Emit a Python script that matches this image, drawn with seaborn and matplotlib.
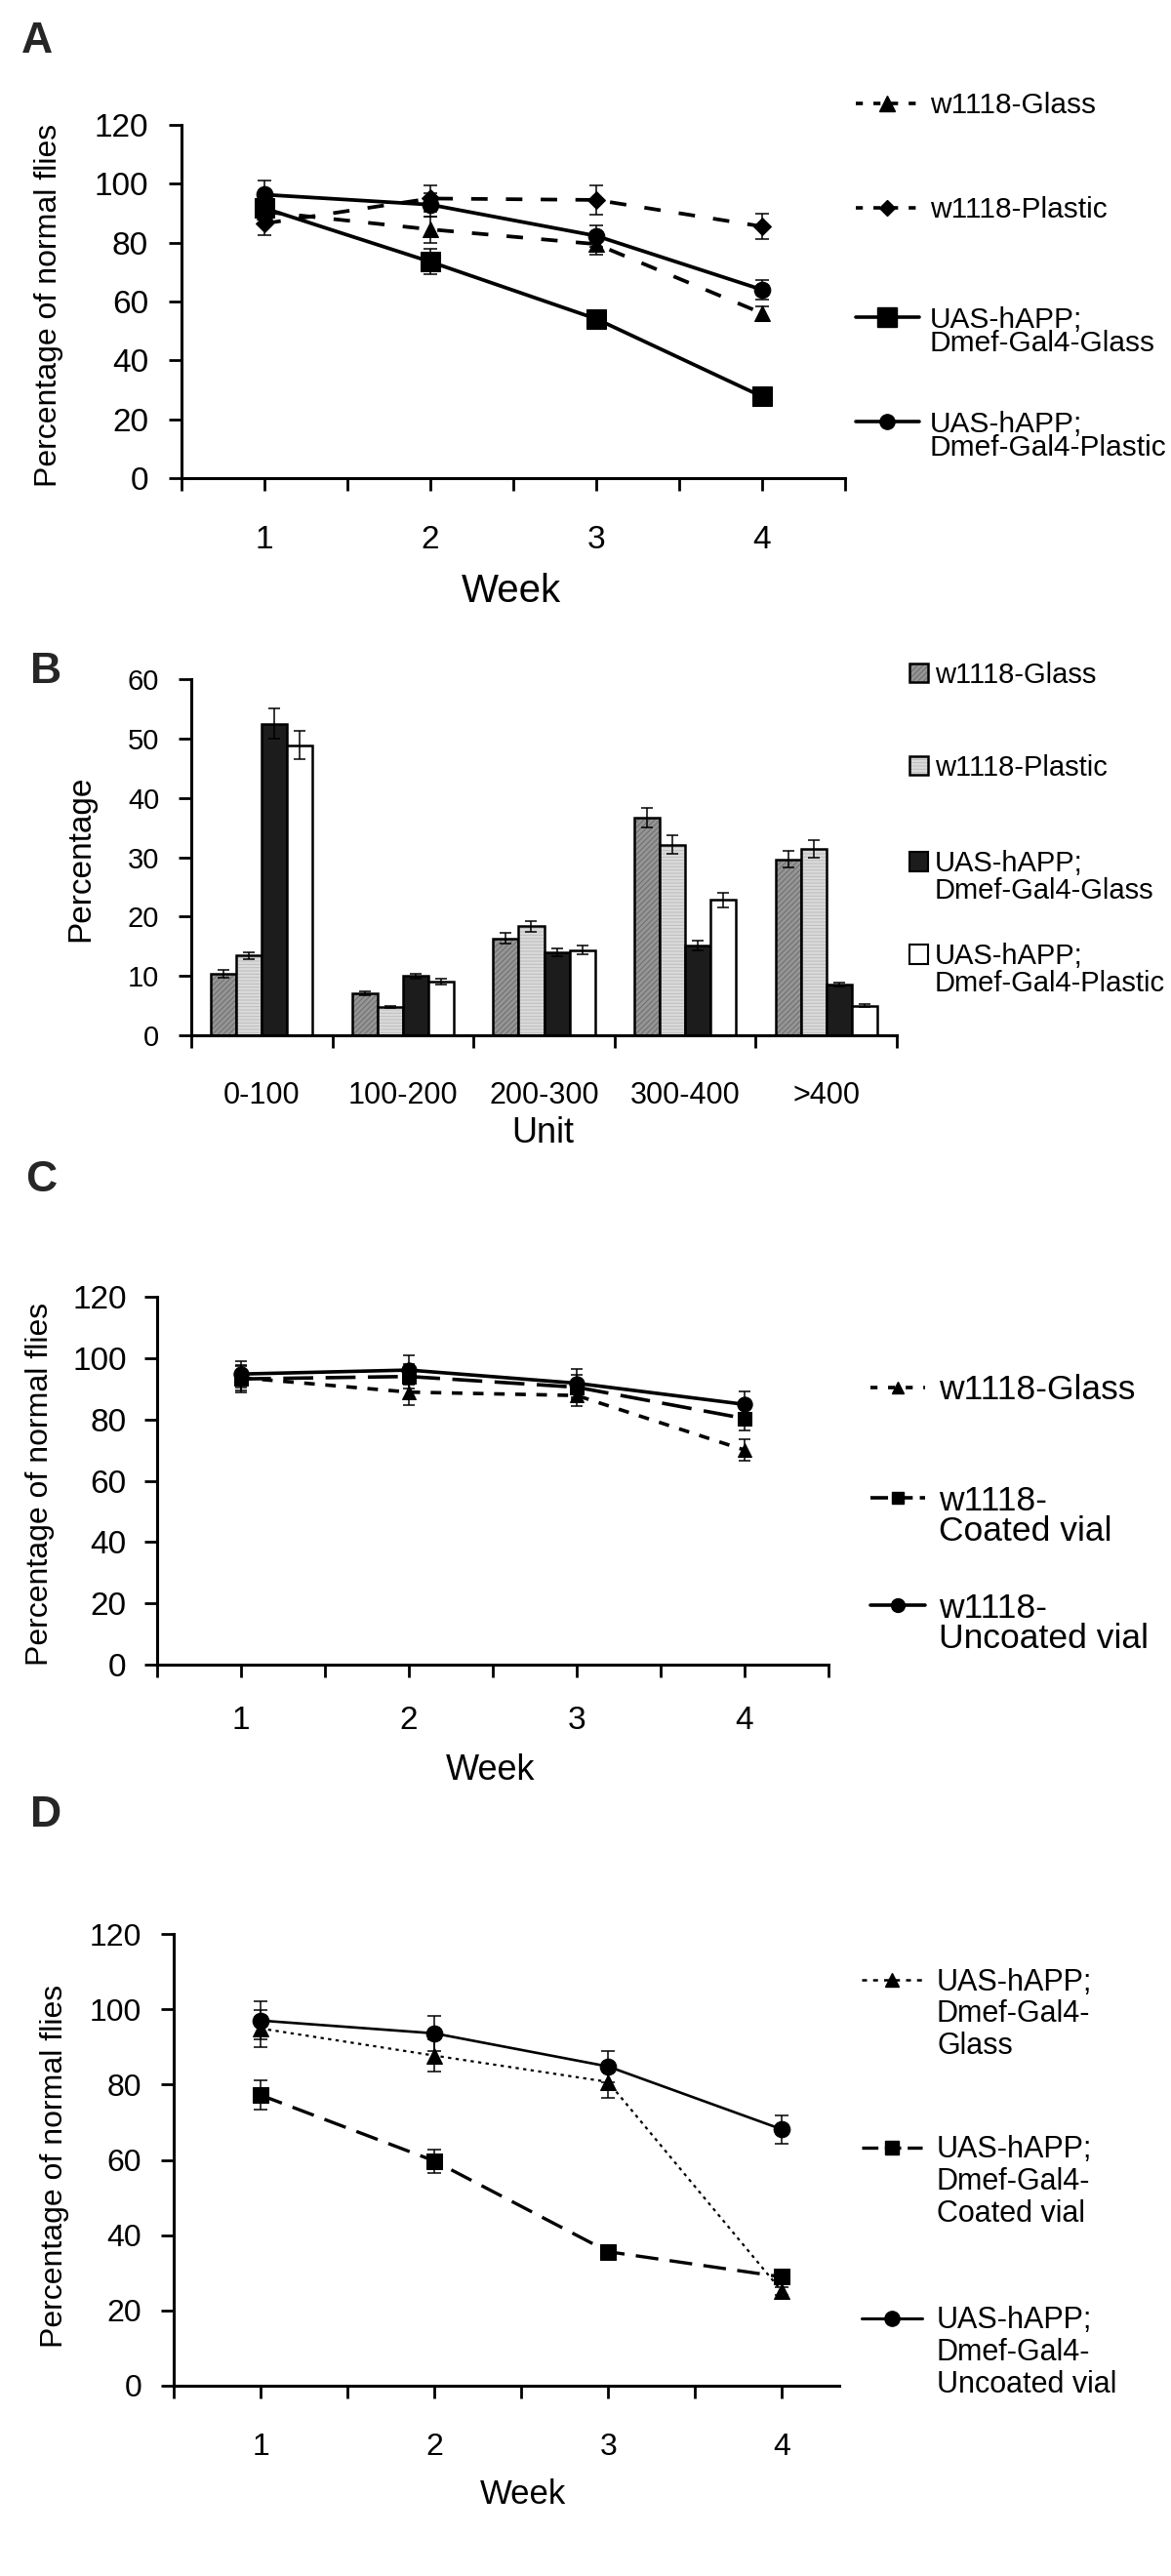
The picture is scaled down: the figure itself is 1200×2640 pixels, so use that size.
import numpy as np
import pandas as pd
import matplotlib
matplotlib.use("Agg")
import matplotlib.pyplot as plt
import matplotlib.patheffects as pe
from matplotlib.lines import Line2D
from matplotlib.patches import Patch
import seaborn as sns

W, H = 1200, 2640

weeks = [1, 2, 3, 4]

# A: survival on glass / plastic
a_labels = [["w1118-Glass"], ["w1118-Plastic"],
            ["UAS-hAPP;", "Dmef-Gal4-Glass"], ["UAS-hAPP;", "Dmef-Gal4-Plastic"]]
a_glass = [90.5, 84.5, 79.5, 56.0]
a_glass_err = [3.5, 4.5, 3.6, 2.5]
a_plastic = [86.5, 95.0, 94.5, 85.5]
a_plastic_err = [3.8, 4.4, 4.9, 4.4]
a_uas_glass = [91.7, 73.5, 54.1, 27.7]
a_uas_glass_err = [3.0, 4.3, 1.5, 1.5]
a_uas_plastic = [96.3, 92.9, 82.3, 64.0]
a_uas_plastic_err = [4.7, 4.0, 3.6, 3.2]

# B: distribution over units
b_units = ["0-100", "100-200", "200-300", "300-400", ">400"]
b_groups = ["w1118-Glass", "w1118-Plastic", "UAS-hAPP; Dmef-Gal4-Glass", "UAS-hAPP; Dmef-Gal4-Plastic"]
b_labels = [["w1118-Glass"], ["w1118-Plastic"],
            ["UAS-hAPP;", "Dmef-Gal4-Glass"], ["UAS-hAPP;", "Dmef-Gal4-Plastic"]]
b_w_glass = [10.35, 7.1, 16.3, 36.65, 29.6]
b_w_glass_err = [0.6, 0.3, 0.9, 1.7, 1.4]
b_w_plastic = [13.4, 4.8, 18.35, 32.1, 31.4]
b_w_plastic_err = [0.6, 0.15, 0.9, 1.6, 1.5]
b_uas_glass = [52.5, 10.0, 14.0, 15.1, 8.55]
b_uas_glass_err = [2.6, 0.4, 0.7, 0.8, 0.3]
b_uas_plastic = [48.9, 9.1, 14.35, 22.8, 5.0]
b_uas_plastic_err = [2.45, 0.5, 0.7, 1.2, 0.3]

# C: w1118 in coated / uncoated vials
c_labels = [["w1118-Glass"], ["w1118-", "Coated vial"], ["w1118-", "Uncoated vial"]]
c_glass = [93.6, 88.9, 87.8, 70.0]
c_glass_err = [4.0, 4.2, 3.4, 3.6]
c_coated = [93.2, 94.0, 90.5, 80.3]
c_coated_err = [4.3, 4.0, 4.0, 3.9]
c_uncoated = [94.8, 96.1, 91.8, 84.9]
c_uncoated_err = [4.3, 4.7, 4.7, 4.3]

# D: UAS-hAPP; Dmef-Gal4 in coated / uncoated vials
d_labels = [["UAS-hAPP;", "Dmef-Gal4-", "Glass"],
            ["UAS-hAPP;", "Dmef-Gal4-", "Coated vial"],
            ["UAS-hAPP;", "Dmef-Gal4-", "Uncoated vial"]]
d_glass = [94.9, 87.7, 80.7, 25.1]
d_glass_err = [5.0, 4.3, 4.2, 1.0]
d_coated = [77.2, 59.7, 35.6, 28.9]
d_coated_err = [3.9, 3.1, 1.0, 1.0]
d_uncoated = [97.0, 93.6, 84.8, 68.1]
d_uncoated_err = [5.0, 4.6, 4.2, 3.8]

sns.set_style("ticks")
plt.rcParams["font.family"] = ["Liberation Sans", "DejaVu Sans"]
plt.rcParams["hatch.linewidth"] = 0.7

fig = plt.figure(figsize=(W / 100, H / 100), dpi=100)


def px_axes(x0, y0, x1, y1):
    return fig.add_axes([x0 / W, 1 - y1 / H, (x1 - x0) / W, (y1 - y0) / H])


def style_axes(ax, tick_pt, xpad, ypad):
    sns.despine(ax=ax)
    for s in ("left", "bottom"):
        ax.spines[s].set_linewidth(2.2)
        ax.spines[s].set_color("k")
    ax.tick_params(axis="both", which="both", direction="out", length=9.5, width=2,
                   color="k", labelsize=tick_pt, labelcolor="k")
    ax.tick_params(axis="x", which="both", pad=xpad)
    ax.tick_params(axis="y", which="both", pad=ypad)


def set_labels(ax, xlab, ylab, fs_x, fs_y, xpos, ypos):
    ax.set_xlabel(xlab, fontsize=fs_x, color="k")
    ax.set_ylabel(ylab, fontsize=fs_y, color="k")
    ax.xaxis.set_label_coords(*xpos)
    ax.yaxis.set_label_coords(*ypos)
    ax.xaxis.label.set_va("center")
    ax.yaxis.label.set_va("center")


def draw_series(ax, y, err, marker, ms, ls, lw, cap=5):
    ax.errorbar(weeks, y, yerr=err, fmt="none", ecolor="k", elinewidth=1.1,
                capsize=cap, capthick=1.1, zorder=2)
    sns.lineplot(x=weeks, y=y, ax=ax, color="k", marker=marker, markersize=ms,
                 markeredgecolor="k", linewidth=lw, linestyle=ls, zorder=3)


def week_axis(ax, xmax, last_tick):
    ax.set_xlim(0.5, xmax)
    ax.set_ylim(0, 120)
    ticks = np.arange(0.5, last_tick + 0.01, 0.5)
    ax.set_xticks(ticks)
    ax.set_xticklabels([str(int(t)) if t == int(t) else "" for t in ticks])
    ax.set_yticks(range(0, 121, 20))


def add_entry(handle, lines, x, ys, fs, hl, htp, ls, hh=0.7):
    yc = sum(ys) / len(ys)
    handles = [handle] + [Line2D([], [], color="none")] * (len(lines) - 1)
    fig.legend(handles, lines, loc="center left", bbox_to_anchor=(x / W, 1 - yc / H),
               frameon=False, fontsize=fs, handlelength=hl, handletextpad=htp,
               labelspacing=ls, borderpad=0, borderaxespad=0, handleheight=hh,
               numpoints=1, labelcolor="k")


def letter(s, x, y):
    fig.text(x / W, 1 - y / H, s, ha="center", va="center", fontsize=32, fontweight="bold")


def outline_hatched(patch, hatch, hcol):
    # hatch takes the edge colour; a black stroke is drawn as the outline
    patch.set_hatch(hatch)
    patch.set_edgecolor(hcol)
    patch.set_path_effects([pe.Stroke(linewidth=1.8, foreground="k")])


# ---------------- A ----------------
axa = px_axes(186, 128, 866, 490)
dash_a = (0, (4.5, 5))
draw_series(axa, a_glass, a_glass_err, "^", 12, dash_a, 2.7)
draw_series(axa, a_plastic, a_plastic_err, "D", 9, dash_a, 2.7)
draw_series(axa, a_uas_glass, a_uas_glass_err, "s", 14, "-", 2.7)
draw_series(axa, a_uas_plastic, a_uas_plastic_err, "o", 12, "-", 2.7)
week_axis(axa, 4.5, 4.5)
style_axes(axa, 24, 25, 15)
set_labels(axa, "Week", "Percentage of normal flies", 29, 23, (0.497, -0.32), (-0.2, 0.49))
letter("A", 38, 42)

a_handles = [
    Line2D([], [], color="k", lw=2.6, ls=(0, (2, 3)), marker="^", ms=11),
    Line2D([], [], color="k", lw=2.6, ls=(0, (2, 3)), marker="D", ms=8),
    Line2D([], [], color="k", lw=2.6, ls="-", marker="s", ms=14),
    Line2D([], [], color="k", lw=2.6, ls="-", marker="o", ms=11),
]
a_ys = [[108], [215], [325, 355], [432, 462]]
for h, lab, ys in zip(a_handles, a_labels, a_ys):
    add_entry(h, lab, 877, ys, 21.5, 2.17, 0.37, -0.11)

# ---------------- B ----------------
axb = px_axes(196, 696, 919, 1061)
b_values = [b_w_glass, b_w_plastic, b_uas_glass, b_uas_plastic]
b_errors = [b_w_glass_err, b_w_plastic_err, b_uas_glass_err, b_uas_plastic_err]
b_colors = ["#959595", "#dadada", "#1c1c1c", "#ffffff"]
b_hatch = ["//////", "-----", None, None]
b_hatch_col = ["#6c6c6c", "#bcbcbc", "k", "k"]
df_b = pd.DataFrame({
    "Unit": np.tile(b_units, len(b_groups)),
    "Group": np.repeat(b_groups, len(b_units)),
    "Percentage": np.concatenate(b_values),
})
sns.barplot(data=df_b, x="Unit", y="Percentage", hue="Group", order=b_units,
            hue_order=b_groups, palette=b_colors, saturation=1, width=0.72,
            edgecolor="k", linewidth=1.8, errorbar=None, legend=False, ax=axb)
for cont, errs, hatch, hcol in zip(axb.containers, b_errors, b_hatch, b_hatch_col):
    xs, ys = [], []
    for bar in cont:
        if hatch:
            outline_hatched(bar, hatch, hcol)
        xs.append(bar.get_x() + bar.get_width() / 2)
        ys.append(bar.get_height())
    axb.errorbar(xs, ys, yerr=errs, fmt="none", ecolor="k", elinewidth=1.1,
                 capsize=4, capthick=1.1, zorder=3)
axb.set_xlim(-0.5, 4.5)
axb.set_ylim(0, 60)
axb.set_yticks(range(0, 61, 10))
axb.set_xticks(range(len(b_units)))
axb.set_xticklabels(b_units)
axb.set_xticks(np.arange(-0.5, 4.6, 1), minor=True)
style_axes(axb, 21, 22, 14)
axb.tick_params(axis="x", which="major", length=0, labelsize=22, pad=34)
set_labels(axb, "Unit", "Percentage", 26, 24, (0.498, -0.274), (-0.156, 0.496))
letter("B", 47, 688)

b_handles = []
for c, h, hc in zip(b_colors, b_hatch, b_hatch_col):
    p = Patch(facecolor=c, edgecolor="k", lw=1.5)
    if h:
        outline_hatched(p, h, hc)
    b_handles.append(p)
b_ys = [[692], [787], [883, 915], [978, 1010]]
for h, lab, ys in zip(b_handles, b_labels, b_ys):
    add_entry(h, lab, 932, ys, 21, 0.65, 0.24, -0.02, hh=0.65)

# ---------------- C ----------------
axc = px_axes(161, 1329, 849, 1706)
draw_series(axc, c_glass, c_glass_err, "^", 10, (0, (3, 3)), 2.6, cap=4)
draw_series(axc, c_coated, c_coated_err, "s", 10, (0, (8.5, 3.5)), 2.6, cap=4)
draw_series(axc, c_uncoated, c_uncoated_err, "o", 11, "-", 2.6, cap=4)
week_axis(axc, 4.5, 4.5)
style_axes(axc, 24, 21, 13)
set_labels(axc, "Week", "Percentage of normal flies", 26, 23, (0.497, -0.289), (-0.174, 0.49))
letter("C", 42, 1210)

c_handles = [
    Line2D([], [], color="k", lw=2.6, ls=(0, (2, 3)), marker="^", ms=9),
    Line2D([], [], color="k", lw=2.6, ls=(0, (5, 2)), marker="s", ms=9),
    Line2D([], [], color="k", lw=2.6, ls="-", marker="o", ms=10),
]
c_ys = [[1425], [1535, 1573], [1645, 1683]]
for h, lab, ys in zip(c_handles, c_labels, c_ys):
    add_entry(h, lab, 892, ys, 25.5, 1.58, 0.4, -0.05)

# ---------------- D ----------------
axd = px_axes(178, 1982, 860, 2445)
draw_series(axd, d_glass, d_glass_err, "^", 11, (0, (1.5, 2)), 1.6)
draw_series(axd, d_coated, d_coated_err, "s", 11, (0, (7, 3.5)), 2.4)
draw_series(axd, d_uncoated, d_uncoated_err, "o", 12, "-", 1.9)
week_axis(axd, 4.33, 4.0)
style_axes(axd, 23, 25, 14)
set_labels(axd, "Week", "Percentage of normal flies", 25, 23, (0.525, -0.24), (-0.179, 0.486))
letter("D", 47, 1860)

d_handles = [
    Line2D([], [], color="k", lw=1.8, ls=(0, (2, 2.5)), marker="^", ms=10),
    Line2D([], [], color="k", lw=2.4, ls=(0, (5, 2)), marker="s", ms=10),
    Line2D([], [], color="k", lw=2.2, ls="-", marker="o", ms=11),
]
d_ys = [[2027, 2066, 2100], [2200, 2237, 2271], [2375, 2412, 2446]]
for h, lab, ys in zip(d_handles, d_labels, d_ys):
    add_entry(h, lab, 883, ys, 22, 2.03, 0.49, 0.09)

fig.savefig("out.png", dpi=100, facecolor="white")
